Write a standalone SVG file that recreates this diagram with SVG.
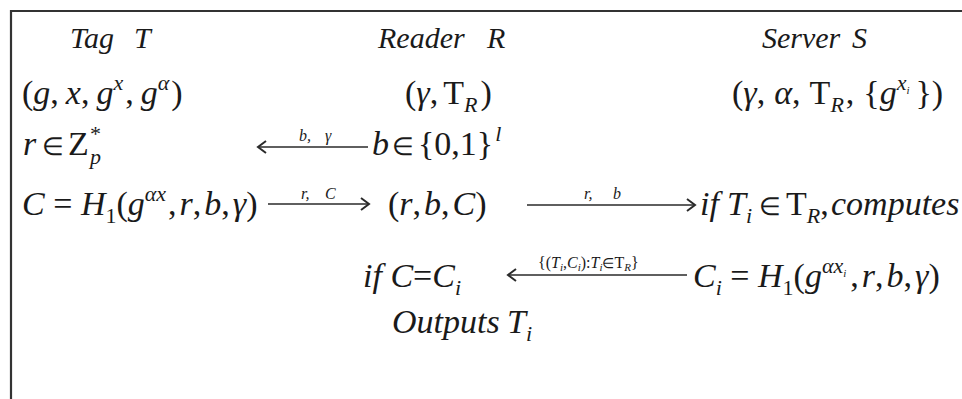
<svg xmlns="http://www.w3.org/2000/svg" width="962" height="399" viewBox="0 0 962 399">
<defs>
<style>
.t{font-family:"Liberation Serif","Times New Roman",serif;fill:#1a1a1a}
.h{font-size:30px;font-style:italic}
.m{font-size:34px}
.i{font-style:italic}
.e{font-size:25px;font-style:normal}
.sp{font-size:22px}
.lb{font-size:16px}
.ls{font-size:11px}
.frame{fill:none;stroke:#333;stroke-width:2.2}
.c{fill:none;stroke:#2a2a2a;stroke-width:1.6}
</style>
<marker id="ah" markerUnits="userSpaceOnUse" markerWidth="12" markerHeight="14" refX="10" refY="7" orient="auto">
<path d="M2,1 L10,7 L2,13" fill="none" stroke="#2a2a2a" stroke-width="2"/>
</marker>
</defs>
<rect width="962" height="399" fill="#fff"/>
<path class="frame" d="M11,399 V11 H962"/>

<g id="tag">
<text class="t h" x="70" y="48">Tag</text>
<text class="t h" x="134" y="48">T</text>
<text class="t m" x="22" y="104">(<tspan class="i">g</tspan>,<tspan class="i" dx="7">x</tspan>,<tspan class="i" dx="7">g</tspan><tspan class="i sp" dy="-14">x</tspan><tspan dy="14" dx="2">,</tspan><tspan class="i" dx="7">g</tspan><tspan class="i sp" dy="-14">α</tspan><tspan dy="14" dx="2">)</tspan></text>
<text class="t m" x="23" y="155"><tspan class="i">r</tspan><tspan class="e" x="42">∈</tspan><tspan x="68">Z</tspan><tspan class="sp" x="90" dy="-14">*</tspan><tspan class="i sp" x="90" dy="23">p</tspan></text>
<text class="t m" x="22" y="215"><tspan class="i">C</tspan> = <tspan class="i">H</tspan><tspan class="sp" dy="8">1</tspan><tspan dy="-8">(</tspan><tspan class="i">g</tspan><tspan class="i sp" dy="-14">αx</tspan><tspan dy="14" dx="2">,</tspan><tspan class="i" dx="3">r</tspan>,<tspan class="i" dx="3">b</tspan>,<tspan class="i" dx="3">γ</tspan>)</text>
</g>

<g id="reader">
<text class="t h" x="378" y="48">Reader</text>
<text class="t h" x="487" y="48">R</text>
<text class="t m" x="405" y="104">(<tspan class="i">γ</tspan>,<tspan dx="5">T</tspan><tspan class="i sp" dy="8">R</tspan><tspan dy="-8" dx="3">)</tspan></text>
<text class="t m" x="372" y="155"><tspan class="i">b</tspan><tspan class="e" x="392">∈</tspan><tspan x="418">{0,1}</tspan><tspan class="i sp" dx="2" dy="-14">l</tspan></text>
<text class="t m" x="388" y="215">(<tspan class="i">r</tspan>,<tspan class="i" dx="3">b</tspan>,<tspan class="i" dx="3">C</tspan>)</text>
<text class="t m" x="363" y="287"><tspan class="i">if</tspan> <tspan class="i">C</tspan>=<tspan class="i">C</tspan><tspan class="i sp" dy="8">i</tspan></text>
<text class="t m" x="392" y="333"><tspan class="i">Outputs</tspan> <tspan class="i" x="507">T</tspan><tspan class="i sp" dy="8">i</tspan></text>
</g>

<g id="server">
<text class="t h" x="762" y="48">Server</text>
<text class="t h" x="852" y="48">S</text>
<text class="t m" x="732" y="104">(<tspan class="i">γ</tspan>,<tspan class="i" dx="9">α</tspan>,<tspan dx="9">T</tspan><tspan class="i sp" dy="8">R</tspan><tspan dy="-8" dx="2">,</tspan><tspan dx="9">{</tspan><tspan class="i">g</tspan><tspan class="i sp" dy="-14">x</tspan><tspan class="i ls" dy="4">i</tspan><tspan dy="10" dx="6">})</tspan></text>
<text class="t m" x="700" y="215"><tspan class="i">if</tspan><tspan class="i" x="727">T</tspan><tspan class="i sp" dy="8">i</tspan><tspan class="e" x="759" dy="-8">∈</tspan><tspan x="786">T</tspan><tspan class="i sp" dy="8">R</tspan><tspan dy="-8">,</tspan><tspan class="i" x="831">computes</tspan></text>
<text class="t m" x="693" y="287"><tspan class="i">C</tspan><tspan class="i sp" dy="8">i</tspan><tspan dy="-8"> = </tspan><tspan class="i">H</tspan><tspan class="sp" dy="8">1</tspan><tspan dy="-8">(</tspan><tspan class="i">g</tspan><tspan class="i sp" dy="-14">αx</tspan><tspan class="i ls" dy="4">i</tspan><tspan dy="10" dx="4">,</tspan><tspan class="i" dx="3">r</tspan>,<tspan class="i" dx="3">b</tspan>,<tspan class="i" dx="3">γ</tspan>)</text>
</g>

<g id="connectors">
<line class="c" x1="368" y1="147" x2="258" y2="147" marker-end="url(#ah)"/>
<text class="t lb i" x="299" y="141">b,<tspan x="325">γ</tspan></text>
<line class="c" x1="268" y1="204" x2="369" y2="204" marker-end="url(#ah)"/>
<text class="t lb i" x="301" y="199">r,<tspan x="325">C</tspan></text>
<line class="c" x1="527" y1="205" x2="695" y2="205" marker-end="url(#ah)"/>
<text class="t lb i" x="584" y="199">r,<tspan x="613">b</tspan></text>
<line class="c" x1="687" y1="275" x2="508" y2="275" marker-end="url(#ah)"/>
<text class="t lb" x="538" y="268">{(<tspan class="i">T</tspan><tspan class="i ls" dy="3">i</tspan><tspan dy="-3">,</tspan><tspan class="i">C</tspan><tspan class="i ls" dy="3">i</tspan><tspan dy="-3">):</tspan><tspan class="i">T</tspan><tspan class="i ls" dy="3">i</tspan><tspan dy="-3" style="font-size:14px">∈</tspan><tspan>T</tspan><tspan class="i ls" dy="3">R</tspan><tspan dy="-3">}</tspan></text>
</g>
</svg>
